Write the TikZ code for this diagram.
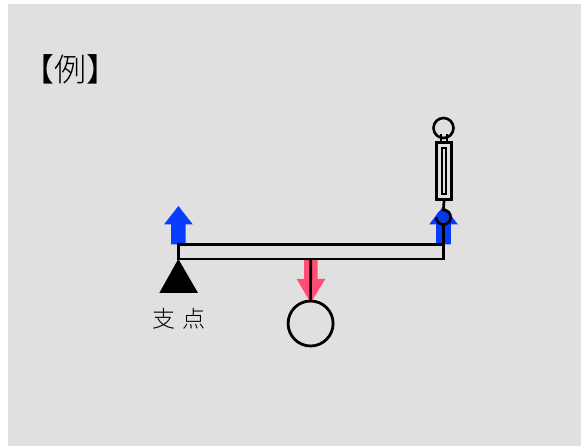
\documentclass[tikz,border=0pt]{standalone}
\usepackage{fontspec}
\setmainfont{Noto Sans CJK JP Light}
\usetikzlibrary{positioning, calc}
\definecolor{panelGray}{HTML}{E0E0E0}
\definecolor{forceBlue}{HTML}{0A3CFF}
\definecolor{forceRed}{HTML}{FF4D73}
\tikzstyle{beamLine}=[color=black, line width=2.8pt]
\tikzstyle{thinLine}=[color=black, line width=2.7pt]
\tikzstyle{forceUp}=[fill=forceBlue, draw=none]
\tikzstyle{forceDown}=[fill=forceRed, draw=none]

\begin{document}
\begin{tikzpicture}[x=1pt, y=-1pt]
      \useasboundingbox (0,0) rectangle (581,446);
      \fill[panelGray] (8,4) rectangle (581,446);

      \node (title) at (70,69) {\fontsize{32pt}{32pt}\selectfont 【例】};
      \node (fulcrumText) at (179,319) {\fontsize{23pt}{23pt}\selectfont 支\hspace{8pt}点};

      \coordinate (pivot) at (178.3,259);
      \coordinate (load) at (310.7,259);
      \coordinate (hook) at (443.5,259);
      \coordinate (pin) at (443.4,217.3);

      % up and down forces
      \foreach \p in {178.4,443.5}
      \fill[forceUp] (\p-7.3,244.5) -- (\p-7.3,224.4) -- (\p-14.4,224.4) -- (\p,206)
        -- (\p+14.4,224.4) -- (\p+7.3,224.4) -- (\p+7.3,244.5) -- cycle;
      \fill[forceDown] (304,259) -- (304,279) -- (296.7,279) -- (310.7,303)
        -- (325.2,279) -- (317.7,279) -- (317.7,259) -- cycle;

      % beam and supports
      \draw[beamLine] (pivot |- 0,244.7) rectangle (hook);
      \fill[black] (pivot) -- (198,293) -- (159.3,293) -- cycle;

      % weight
      \node[circle, draw, line width=2.8pt, minimum size=45pt, inner sep=0pt] (weight) at (310.6,323.5) {};
      \draw[thinLine] (load) -- (weight.north);

      % spring scale
      \node[circle, draw, line width=2.6pt, minimum size=20pt, inner sep=0pt] (ring) at (443.5,128) {};
      \node[rectangle, draw, line width=2.6pt, minimum width=14.5pt, minimum height=57pt, inner sep=0pt] (scaleBody) at (444,171.2) {};
      \node[rectangle, draw, line width=2.2pt, minimum width=4pt, minimum height=46.5pt, inner sep=0pt] (scaleSlot) at (443.8,171) {};
      \draw[thinLine, line width=2pt] (441,134) -- (441,142);
      \draw[thinLine, line width=2pt] (446.5,134) -- (446.5,142);
      \node[circle, fill=forceBlue!90!black, minimum size=14.6pt, inner sep=0pt] (pinDot) at (pin) {};
      \draw[thinLine] (scaleBody.south) -- (443.4,210) arc (-90:180:7.3);
      \draw[thinLine] (pinDot.south) -- (hook);
    \end{tikzpicture}
\end{document}
